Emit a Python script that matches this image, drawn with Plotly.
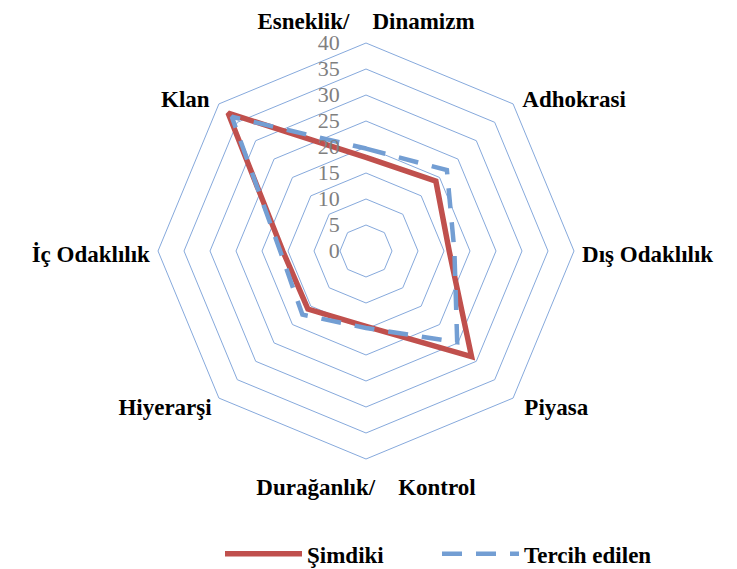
import plotly.graph_objects as go

categories = ["Esneklik/\u00a0\u00a0\u00a0 Dinamizm", "Adhokrasi", "Dış Odaklılık", "Piyasa",
              "Durağanlık/\u00a0\u00a0\u00a0 Kontrol", "Hiyerarşi", "İç Odaklılık", "Klan"]
simdiki = [18, 19, 16, 28.7, 14.5, 15.8, 16, 37.5]
tercih = [19.7, 22, 17, 24.8, 14.8, 17.3, 16.5, 36.5]
radial_ticks = [0, 5, 10, 15, 20, 25, 30, 35, 40]

# which category labels each label-layer shows
labels_bottom = [categories[4]]
labels_top = [categories[0]]
labels_side = [categories[2], categories[6]]
labels_low_diag = [categories[3], categories[5]]
labels_high_diag = [categories[1], categories[7]]

W, H = 737, 569
cx, cy, R = 358, 243, 208
font_family = "Liberation Serif"
grid_col = "#86A9DC"

def close(v):
    return list(v) + [v[0]]

def dom(dx=0, dy=0):
    x0, y0 = cx + dx, cy + dy
    return dict(x=[(x0 - R) / W, (x0 + R) / W], y=[(H - y0 - R) / H, (H - y0 + R) / H])

def label_font():
    return dict(family=font_family, size=23, color="black", weight="bold")

def texts(shown):
    return [c if c in shown else "" for c in categories]

fig = go.Figure()
fig.add_trace(go.Scatterpolar(
    r=close(simdiki), theta=close(categories), mode="lines", name="Şimdiki",
    line=dict(color="#C0504D", width=5.5)))
fig.add_trace(go.Scatterpolar(
    r=close(tercih), theta=close(categories), mode="lines", name="Tercih edilen",
    line=dict(color="#739ED3", width=4.5, dash="20px,14px")))

# empty traces so the label-only layers exist
for sp in ["polar2", "polar3", "polar4", "polar5"]:
    fig.add_trace(go.Scatterpolar(r=[None], theta=[categories[0]], subplot=sp,
                                  mode="lines", showlegend=False, hoverinfo="skip"))

def label_layer(shown, dx, dy, ticklen):
    return dict(
        domain=dom(dx, dy), gridshape="linear", bgcolor="rgba(0,0,0,0)",
        angularaxis=dict(type="category", categoryarray=categories,
                         direction="clockwise", rotation=90, showgrid=False, showline=False,
                         tickmode="array", tickvals=categories, ticktext=texts(shown),
                         ticks="outside", ticklen=ticklen, tickcolor="rgba(0,0,0,0)",
                         tickfont=label_font()),
        radialaxis=dict(range=[0, 40], visible=False, showgrid=False),
    )

fig.update_layout(
    width=W, height=H,
    margin=dict(l=0, r=0, t=0, b=0),
    paper_bgcolor="white", plot_bgcolor="white",
    showlegend=True,
    legend=dict(orientation="h", x=(220 - 8) / W, xanchor="left", y=0.003, yanchor="bottom",
                font=dict(family=font_family, size=23, color="black", weight="bold"),
                itemwidth=77, entrywidth=125, tracegroupgap=0),
    polar=dict(
        domain=dom(),
        gridshape="linear",
        bgcolor="white",
        angularaxis=dict(type="category", categoryarray=categories,
                         direction="clockwise", rotation=90, showgrid=False,
                         showline=True, linecolor=grid_col, linewidth=1,
                         tickmode="array", tickvals=categories, ticktext=texts(labels_bottom),
                         ticks="outside", ticklen=8, tickcolor="rgba(0,0,0,0)",
                         tickfont=label_font()),
        radialaxis=dict(range=[0, 40], tickvals=radial_ticks, angle=90, tickangle=90,
                        showline=False,
                        gridcolor=grid_col, gridwidth=1, side="counterclockwise",
                        ticks="outside", ticklen=18, tickcolor="rgba(0,0,0,0)",
                        tickfont=dict(family=font_family, size=22, color="#7F7F7F")),
    ),
    polar2=label_layer(labels_side, 0, 3, 3),
    polar3=label_layer(labels_low_diag, 2, -14, 8),
    polar4=label_layer(labels_high_diag, 0, 10, 8),
    polar5=label_layer(labels_top, 0, 4, 8),
)

fig.write_html("out.html")
